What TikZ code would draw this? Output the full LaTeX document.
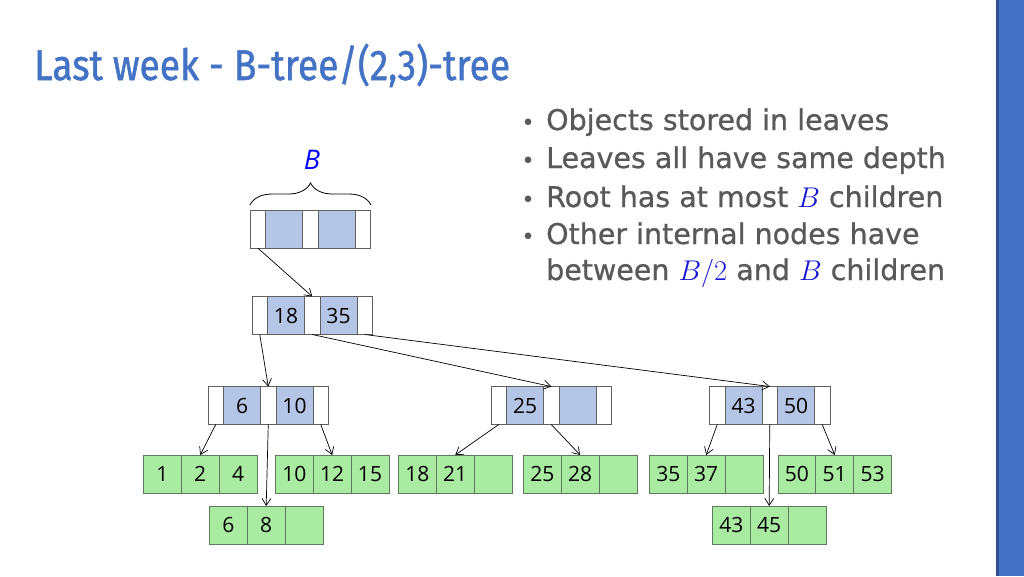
\documentclass[tikz,border=0pt]{standalone}
\usepackage{fix-cm}
\usepackage{fontspec}
\usepackage{amsmath}
\usepackage{xcolor}
\usetikzlibrary{arrows.meta,decorations.pathreplacing}
\newfontfamily\numfont{Open Sans}
\newfontfamily\titlefont{Fira Sans}[FakeBold=1.2]
\newfontfamily\bulletfont{DejaVu Sans}[FakeBold=0.8]
\definecolor{keyblue}{HTML}{B4C5E6}
\definecolor{leafgreen}{HTML}{A9EBA1}
\definecolor{leafedge}{HTML}{5E7A5E}
\definecolor{titleblue}{HTML}{4472C4}
\definecolor{bardark}{HTML}{2F4E8C}
\definecolor{textgray}{HTML}{595959}
\definecolor{mathblue}{HTML}{1414D2}

% internal node: name, x, y, key, key
\newcommand{\inode}[5]{
        \node[ptr] (#1p0) at (#2,#3) {};
        \node[key] (#1k1) at (#1p0.east) {#4};
        \node[ptr] (#1p1) at (#1k1.east) {};
        \node[key] (#1k2) at (#1p1.east) {#5};
        \node[ptr] (#1p2) at (#1k2.east) {};
}
% leaf: name, x, y, three entries
\newcommand{\lnode}[6]{
        \node[leaf] (#1a) at (#2,#3) {#4};
        \node[leaf] (#1b) at (#1a.east) {#5};
        \node[leaf] (#1c) at (#1b.east) {#6};
}

\begin{document}
\begin{tikzpicture}[x=1pt, y=-1pt,
        ptr/.style={draw=gray!75!black, fill=white, line width=0.8pt, minimum width=15.5pt,
                minimum height=38pt, inner sep=0pt, outer sep=0pt, anchor=west,
                font=\numfont\fontsize{21}{21}\selectfont},
        key/.style={ptr, fill=keyblue, minimum width=37pt},
        leaf/.style={ptr, draw=leafedge, fill=leafgreen, minimum width=37.8pt},
        link/.style={-{Straight Barb[length=7pt,width=9pt]}, line width=0.7pt},
        bul/.style={anchor=base west, inner sep=0pt, text=textgray,
                font=\bulletfont\fontsize{28.5}{28.5}\selectfont},
        dot/.style={anchor=base, inner sep=0pt, text=textgray,
                font=\bulletfont\fontsize{22}{22}\selectfont}]
        \useasboundingbox (0,0) rectangle (1024,576);
        \fill[titleblue] (996,0) rectangle (1024,576);
        \fill[bardark] (996,0) rectangle (999,576);

        \node[anchor=base west, inner sep=0pt, text=titleblue,
                font=\titlefont\fontsize{43}{43}\selectfont] (title) at (34,80)
                {\scalebox{0.865}[1]{Last week - B-tree/(2,3)-tree}};

        \node[dot] (d1) at (528,130) {•};
        \node[dot] (d2) at (528,168) {•};
        \node[dot] (d3) at (528,207) {•};
        \node[dot] (d4) at (528,244) {•};
        \node[bul] (t1) at (546,130) {Objects stored in leaves};
        \node[bul] (t2) at (546,168) {Leaves all have same depth};
        \node[bul] (t3) at (546,207) {Root has at most \textcolor{mathblue}{$B$} children};
        \node[bul] (t4) at (546,244) {Other internal nodes have};
        \node[bul] (t5) at (546,280) {between \textcolor{mathblue}{$B/2$} and \textcolor{mathblue}{$B$} children};

        \inode{r}{250}{229}{}{}
        \inode{m}{252}{315.5}{18}{35}
        \inode{a}{208}{405.5}{6}{10}
        \inode{b}{491}{405.5}{25}{}
        \inode{c}{709.5}{405.5}{43}{50}

        \lnode{l1}{143.5}{474}{1}{2}{4}
        \lnode{l2}{209.5}{525}{6}{8}{}
        \lnode{l3}{275.5}{474}{10}{12}{15}
        \lnode{l4}{398.5}{474}{18}{21}{}
        \lnode{l5}{523.5}{474}{25}{28}{}
        \lnode{l6}{649.5}{474}{35}{37}{}
        \lnode{l7}{712.5}{525}{43}{45}{}
        \lnode{l8}{778}{474}{50}{51}{53}

        % brace over the root
        \coordinate (bl) at (250,205);
        \coordinate (br) at (371,205);
        \draw[decorate, decoration={brace, amplitude=22pt}, line width=0.8pt] (bl) -- (br);
        \node[text=blue, font=\numfont\itshape\fontsize{27}{27}\selectfont] (blab) at (312,160) {B};

        \draw[link] (rp0.south) -- (mp1.north);
        \draw[link] (mp0.south) -- (ap1.north);
        \draw[link] (mp1.south) -- (bp1.north);
        \draw[link] (mp2.south) -- (cp1.north);
        \draw[link] (ap0.south) -- (l1b.north);
        \draw[link] (ap1.south) -- (l2b.north);
        \draw[link] (ap2.south) -- (l3b.north);
        \draw[link] (bp0.south) -- (l4b.north);
        \draw[link] (bp1.south) -- (l5b.north);
        \draw[link] (cp0.south) -- (l6b.north);
        \draw[link] (cp1.south) -- (l7b.north);
        \draw[link] (cp2.south) -- (l8b.north);
\end{tikzpicture}
\end{document}
